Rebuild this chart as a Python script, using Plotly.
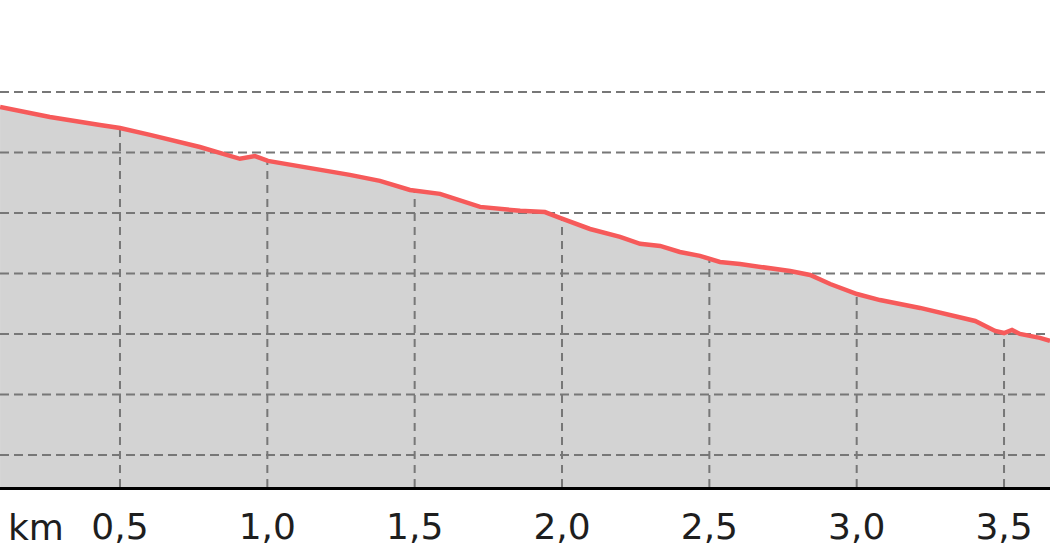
import numpy as np
import plotly.graph_objects as go

# distance along track (km) and elevation (m)
dist_km = [0.093, 0.262, 0.432, 0.500, 0.602, 0.771, 0.907, 0.958, 1.002, 1.111,
           1.280, 1.382, 1.484, 1.586, 1.688, 1.722, 1.858, 1.942, 1.993, 2.095,
           2.197, 2.265, 2.333, 2.400, 2.468, 2.536, 2.604, 2.672, 2.774, 2.842,
           2.910, 3.001, 3.079, 3.215, 3.351, 3.402, 3.470, 3.500, 3.527, 3.554,
           3.622, 3.656]
elev_m = [415.0, 411.7, 409.1, 408.1, 405.8, 401.8, 397.9, 398.8, 397.2, 395.5,
          392.6, 390.6, 387.6, 386.3, 383.3, 382.0, 380.7, 380.3, 378.4, 374.7,
          372.1, 369.8, 369.1, 367.1, 365.8, 363.8, 363.1, 362.2, 360.8, 359.5,
          356.5, 353.2, 351.2, 348.6, 345.6, 344.3, 341.0, 340.3, 341.3, 340.0,
          338.7, 337.7]

x_ticks = [0.5, 1.0, 1.5, 2.0, 2.5, 3.0, 3.5]
x_tick_text = ["0,5", "1,0", "1,5", "2,0", "2,5", "3,0", "3,5"]
y_grid = [300, 320, 340, 360, 380, 400, 420]

x_range = [0.0928, 3.656]
y_range = [289.4, 450.4]

grid_line = dict(color="#777777", width=2, dash="9px,5px")

fig = go.Figure()

# filled area under profile
fig.add_trace(go.Scatter(x=dist_km, y=elev_m, mode="lines", line=dict(width=0),
                         fill="tozeroy", fillcolor="#d3d3d3", hoverinfo="skip",
                         showlegend=False))

# horizontal dashed grid lines
gx, gy = [], []
for v in y_grid:
    gx += [x_range[0], x_range[1], None]
    gy += [v, v, None]
fig.add_trace(go.Scatter(x=gx, y=gy, mode="lines", line=grid_line,
                         hoverinfo="skip", showlegend=False))

# vertical dashed grid lines, only below the profile
vx, vy = [], []
for t in x_ticks:
    top = float(np.interp(t, dist_km, elev_m))
    vx += [t, t, None]
    vy += [y_range[0], top, None]
fig.add_trace(go.Scatter(x=vx, y=vy, mode="lines",
                         line=dict(color="#777777", width=2, dash="8px,6px"),
                         hoverinfo="skip", showlegend=False))

# elevation line
fig.add_trace(go.Scatter(x=dist_km, y=elev_m, mode="lines",
                         line=dict(color="#f65a5a", width=4.5),
                         showlegend=False))

fig.update_layout(
    width=1050, height=560,
    margin=dict(l=0, r=0, t=0, b=73),
    paper_bgcolor="white", plot_bgcolor="white",
    font=dict(family="DejaVu Sans", size=36, color="#1e1e1e"),
    separators=",.",
    xaxis=dict(range=x_range, tickvals=x_ticks, ticktext=x_tick_text,
               showgrid=False, zeroline=False, showline=True,
               linecolor="black", linewidth=3, ticks="outside",
               ticklen=6, tickcolor="rgba(0,0,0,0)",
               tickfont=dict(family="DejaVu Sans", size=36, color="#1e1e1e")),
    yaxis=dict(range=y_range, showgrid=False, zeroline=False,
               showticklabels=False, showline=False),
    annotations=[dict(text="km", xref="paper", yref="paper", x=0.006, y=0,
                      xanchor="left", yanchor="top", yshift=-18, showarrow=False,
                      font=dict(family="DejaVu Sans", size=36, color="#1e1e1e"))],
)

fig.write_html("out.html", config={"displayModeBar": False},
               post_script="document.body.style.margin='0';")
